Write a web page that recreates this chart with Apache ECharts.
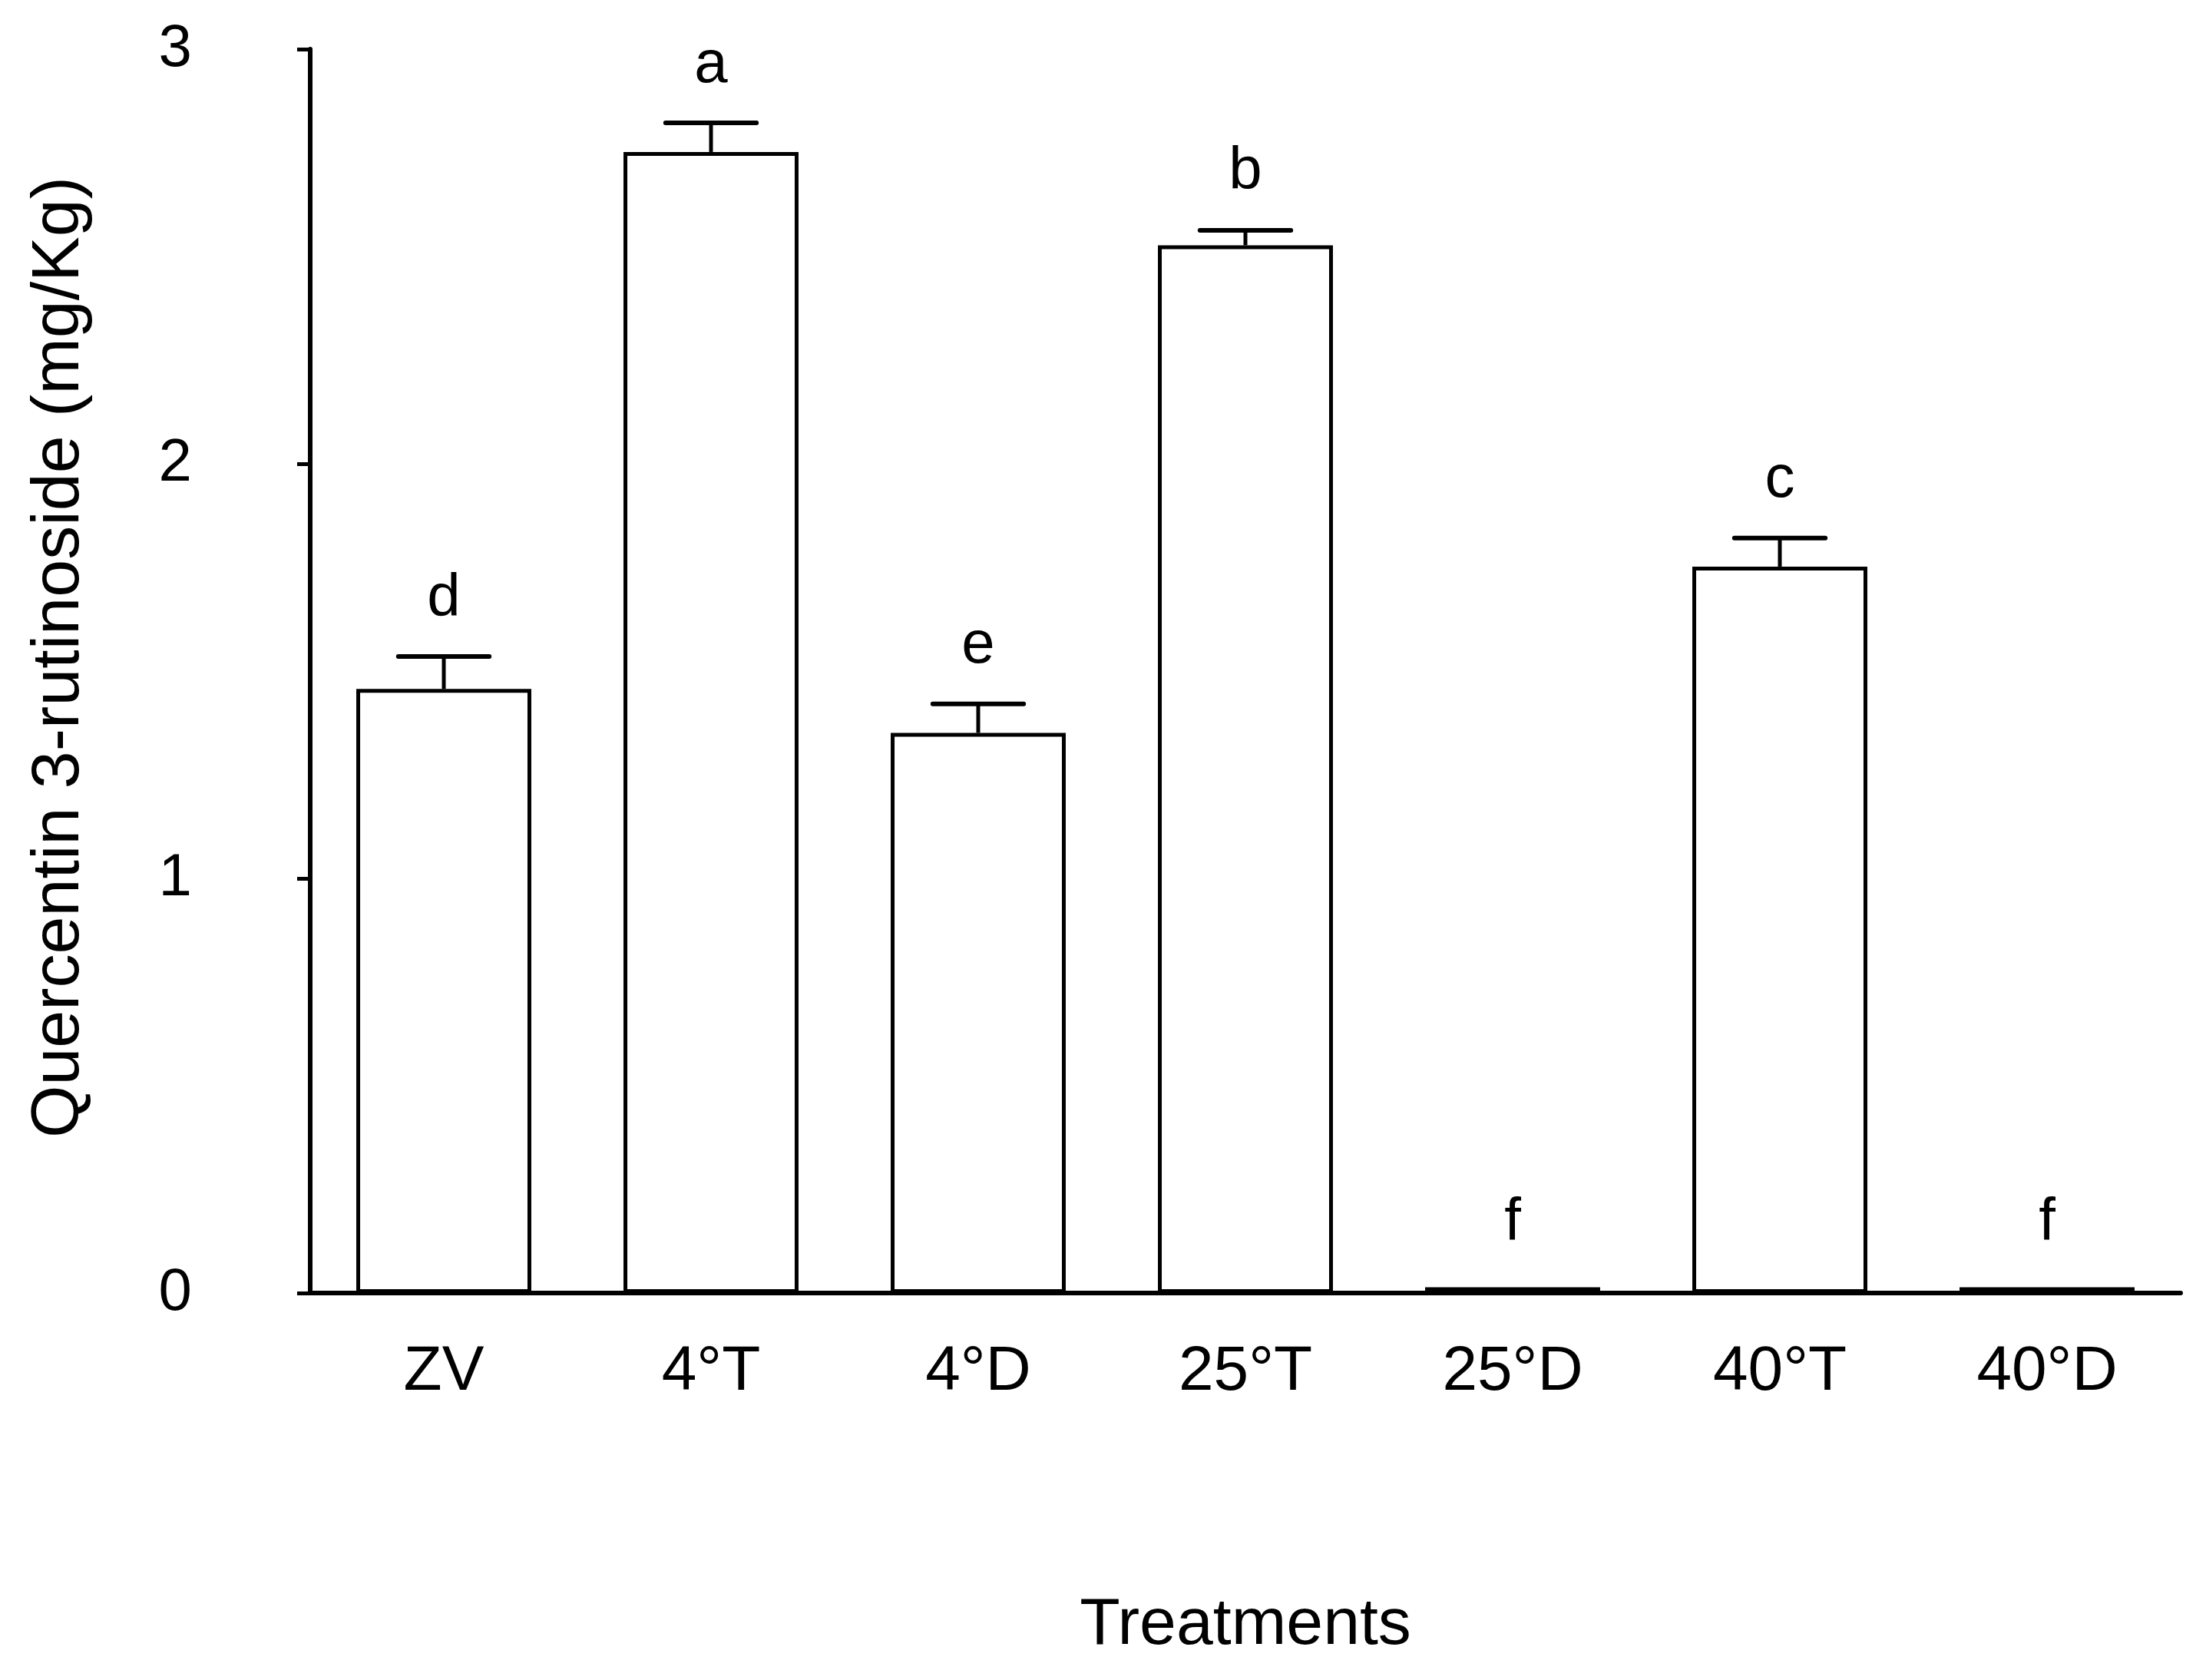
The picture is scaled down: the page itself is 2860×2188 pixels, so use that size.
<!DOCTYPE html>
<html>
<head>
<meta charset="utf-8">
<script src="https://cdn.jsdelivr.net/npm/echarts@6/dist/echarts.min.js"></script>
<style>html,body{margin:0;padding:0;background:#fff}#c{width:2860px;height:2188px}</style>
</head>
<body>
<div id="c"></div>
<script>
var categories = ['ZV', '4°T', '4°D', '25°T', '25°D', '40°T', '40°D'];
var means = [1.457, 2.752, 1.351, 2.527, 0.014, 1.752, 0.014];
var errors = [0.078, 0.070, 0.070, 0.036, 0, 0.069, 0];
var letters = ['d', 'a', 'e', 'b', 'f', 'c', 'f'];
var yTicks = [0, 1, 2, 3];

var FONT = '"Liberation Sans", Arial, sans-serif';
var chart = echarts.init(document.getElementById('c'));

var errData = categories.map(function (c, i) { return [i, means[i], errors[i]]; });

chart.setOption({
  backgroundColor: '#fff',
  animation: false,
  grid: { left: 404, right: 20, top: 64, bottom: 504, containLabel: false },
  xAxis: {
    type: 'category',
    data: categories,
    name: 'Treatments',
    nameLocation: 'middle',
    nameGap: 390,
    nameTextStyle: { fontFamily: FONT, fontSize: 86, color: '#000' },
    axisLine: { lineStyle: { color: '#000', width: 6 } },
    axisTick: { show: false },
    axisLabel: { fontFamily: FONT, fontSize: 82, color: '#000', margin: 62 },
    splitLine: { show: false }
  },
  yAxis: {
    type: 'value',
    min: 0, max: 3, interval: 1,
    name: 'Quercentin 3-rutinoside (mg/Kg)',
    nameLocation: 'middle',
    nameGap: 282,
    nameTextStyle: { fontFamily: FONT, fontSize: 88, color: '#000', padding: [0, 0, 0, 36] },
    axisLine: { show: true, lineStyle: { color: '#000', width: 6 } },
    axisTick: { show: true, inside: false, length: 17, lineStyle: { color: '#000', width: 5 } },
    axisLabel: { fontFamily: FONT, fontSize: 78, color: '#000', margin: 154,
      formatter: function (v) { return yTicks.indexOf(v) >= 0 ? String(v) : ''; } },
    splitLine: { show: false }
  },
  series: [
    {
      type: 'bar',
      data: means,
      barWidth: '65.5%',
      itemStyle: { color: '#fff', borderColor: '#000', borderWidth: 5 },
      z: 2
    },
    {
      type: 'custom',
      data: errData,
      z: 3,
      renderItem: function (params, api) {
        var idx = api.value(0), m = api.value(1), e = api.value(2);
        var letter = letters[idx];
        var base = api.coord([idx, m]);
        var top = api.coord([idx, m + e]);
        var half = api.size([1, 0])[0] * 0.17;
        var children = [];
        if (e > 0) {
          children.push({ type: 'line', shape: { x1: base[0], y1: base[1], x2: top[0], y2: top[1] },
            style: { stroke: '#000', lineWidth: 5 } });
          children.push({ type: 'line', shape: { x1: top[0] - half, y1: top[1], x2: top[0] + half, y2: top[1] },
            style: { stroke: '#000', lineWidth: 6, lineCap: 'round' } });
        }
        var ly = e > 0 ? top[1] - 36 : top[1] - 44;
        children.push({ type: 'text', x: top[0], y: ly,
          style: { text: letter, fill: '#000', font: '78px ' + FONT, textAlign: 'center', textVerticalAlign: 'bottom' } });
        return { type: 'group', children: children };
      }
    }
  ]
});
</script>
</body>
</html>
